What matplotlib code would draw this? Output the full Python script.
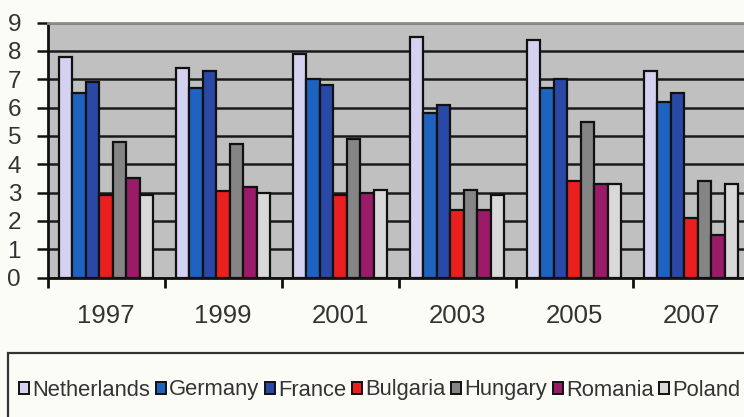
import matplotlib
matplotlib.use("Agg")
import matplotlib.pyplot as plt
import numpy as np
from matplotlib.patches import Rectangle
from matplotlib.ticker import FixedLocator

plt.rcParams['font.family'] = ['Liberation Sans', 'DejaVu Sans']

years = ["1997", "1999", "2001", "2003", "2005", "2007"]
countries = ["Netherlands", "Germany", "France", "Bulgaria", "Hungary", "Romania", "Poland"]

netherlands = [7.8, 7.4, 7.9, 8.5, 8.4, 7.3]
germany = [6.5, 6.7, 7.0, 5.8, 6.7, 6.2]
france = [6.9, 7.3, 6.8, 6.1, 7.0, 6.5]
bulgaria = [2.9, 3.05, 2.9, 2.4, 3.4, 2.1]
hungary = [4.8, 4.7, 4.9, 3.1, 5.5, 3.4]
romania = [3.5, 3.2, 3.0, 2.4, 3.3, 1.5]
poland = [2.9, 3.0, 3.1, 2.9, 3.3, 3.3]

series = [netherlands, germany, france, bulgaria, hungary, romania, poland]
colors = ["#d4d2f0", "#1f63c0", "#2a48a6", "#ea1f1f", "#858585", "#9a1b68", "#d9d9d9"]

W, H = 744, 417
fig = plt.figure(figsize=(W / 100, H / 100), dpi=100)
fig.patch.set_facecolor("#fcfcf7")

# plot area runs a little past the right edge of the canvas
ax = fig.add_axes([47.5 / W, (H - 277.5) / H, 702 / W, 255 / H])
ax.set_facecolor("#c0c0c0")

x = np.arange(len(years))
bw = 0.115
n = len(series)
for i, (vals, c, name) in enumerate(zip(series, colors, countries)):
    off = (i - (n - 1) / 2) * bw
    ax.bar(x + off, vals, width=bw, color=c, edgecolor="#111111",
           linewidth=1.6, label=name, zorder=3)

ax.set_xlim(-0.5, len(years) - 0.5)
ax.set_ylim(0, 9)
ax.set_yticks(range(0, 10))
ax.yaxis.grid(True, color="#1a1a1a", linewidth=1.8, zorder=1)
ax.set_axisbelow(True)

ax.set_xticks(x)
ax.set_xticklabels(years)
ax.xaxis.set_minor_locator(FixedLocator(np.arange(-0.5, len(years), 1.0)))
ax.tick_params(axis="x", which="major", length=0, pad=19, labelsize=18.5,
               labelcolor="#333333")
ax.tick_params(axis="x", which="minor", length=7, width=2, color="#111111",
               direction="out")
ax.tick_params(axis="y", length=8, width=1.8, color="#111111", pad=11,
               labelsize=17.5, labelcolor="#333333")

for s in ["left", "bottom"]:
    ax.spines[s].set_color("#111111")
    ax.spines[s].set_linewidth(2)
ax.spines["top"].set_color("#8c8c8c")
ax.spines["top"].set_linewidth(2)
ax.spines["right"].set_visible(False)

# legend box, open to the right and bottom of the canvas
fig.patches.append(Rectangle((8 / W, -0.2), 1.1, (H - 353) / H + 0.2,
                             transform=fig.transFigure, fill=False,
                             edgecolor="#333333", linewidth=1.6))

handles, labels = ax.get_legend_handles_labels()
leg = fig.legend(handles, labels, loc="center left",
                 bbox_to_anchor=(19 / W, 1 - 390 / H), ncol=7, frameon=False,
                 fontsize=15.8, handlelength=0.45, handleheight=0.45,
                 handletextpad=0.15, columnspacing=0.26, borderpad=0,
                 borderaxespad=0, labelcolor="#333333")
for h in leg.legend_handles:
    h.set_linewidth(1.4)

fig.savefig("out.png", dpi=100, facecolor=fig.get_facecolor())
